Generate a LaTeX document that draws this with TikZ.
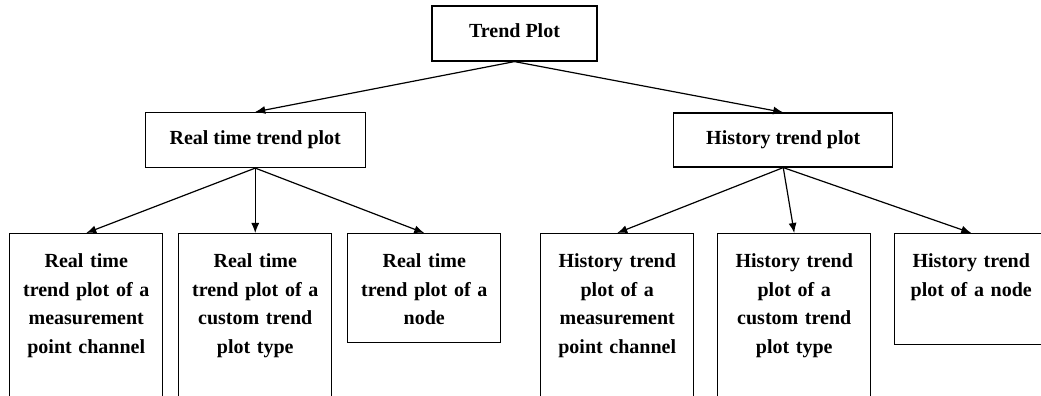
\documentclass[tikz,border=0pt]{standalone}
\usepackage{fontspec}
\setmainfont{Liberation Serif}
\usepackage{tikz}
\usetikzlibrary{arrows.meta, positioning}
\tikzset{kasten/.style={rectangle,draw,line width=1.2pt,font=\fontsize{20}{28.7}\selectfont\bfseries,
		text height=14pt, text depth=5pt},
	blatt/.style={kasten, anchor=north, text width=153pt, align=center, inner sep=0pt, text height=34pt},
	pfeil/.style={-{Latex[length=10pt,width=8pt]}, line width=1.2pt} }

\begin{document}
\begin{tikzpicture}
	[x=1pt, y=1pt,
	 level 1/.style={sibling distance=528pt, level distance=106.5pt},
	 level 2/.style={sibling distance=169pt, level distance=93pt},
	 edge from parent/.style={draw, pfeil},
	 edge from parent path={(\tikzparentnode.south) -- (\tikzchildnode.north)}]

  \useasboundingbox (0,0) rectangle (1041,396);
  \clip (0,0) rectangle (1041,396);

  \node (trend) [kasten, minimum width=165pt, minimum height=55pt] at (514.5,362.5) {Trend Plot}
  	child[xshift=4.75pt] { node (echtzeit) [kasten, minimum width=220pt, minimum height=55pt] {Real time trend plot}
  		child { node (e1) [blatt, text depth=156pt] {Real time\\trend plot of a\\measurement\\point channel} }
  		child { node (e2) [blatt, text depth=156pt] {Real time\\trend plot of a\\custom trend\\plot type} }
  		child { node (e3) [blatt, text depth=75pt] {Real time\\trend plot of a\\node} }
  	}
  	child[xshift=4.75pt] { node (verlauf) [kasten, minimum width=219pt, minimum height=54pt] {History trend plot}
  		child[xshift=3pt] { node (v1) [blatt, text depth=156pt] {History trend\\plot of a\\measurement\\point channel} }
  		child[xshift=11pt] { node (v2) [blatt, text depth=156pt] {History trend\\plot of a\\custom trend\\plot type} }
  		child[xshift=19pt] { node (v3) [blatt, text depth=77pt] {History trend\\plot of a node} } % last box runs past the right edge
  	};
\end{tikzpicture}
\end{document}
